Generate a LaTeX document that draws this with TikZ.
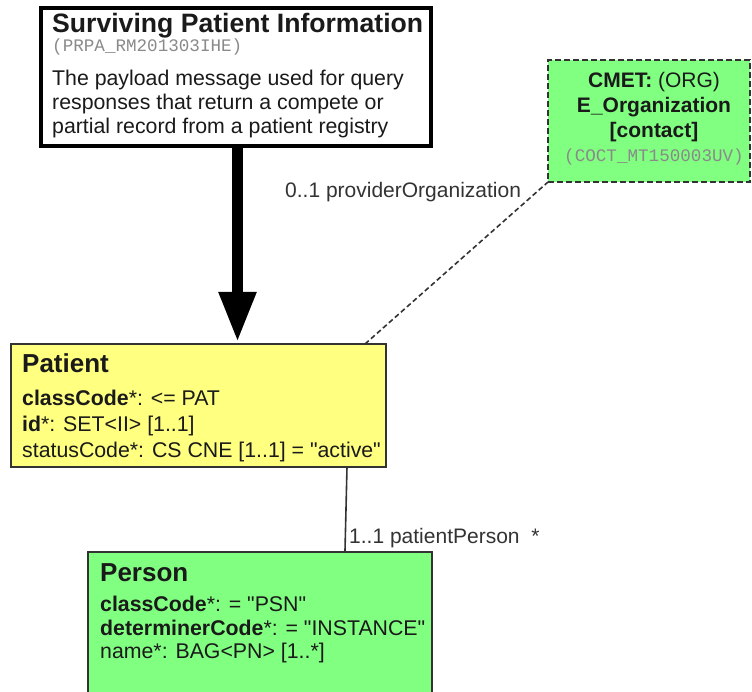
\documentclass[tikz,border=0pt]{standalone}
\usepackage{fontspec}
\setmainfont{Liberation Sans}[Ligatures=TeXOff]
\setmonofont{Liberation Mono}
\usetikzlibrary{calc,arrows.meta}
\newcommand\myfs[1]{\fontsize{#1}{#1}\selectfont}
\definecolor{txt}{HTML}{1A1A1A}
\definecolor{mono}{HTML}{8A8A8A}
\definecolor{pyellow}{HTML}{FFFF80}
\definecolor{pgreen}{HTML}{80FF80}
\definecolor{edge}{HTML}{333333}
\begin{document}
\begin{tikzpicture}[x=1pt,y=-1pt,
  boxshape/.style={rectangle,inner sep=0pt,outer sep=0pt},
  head/.style={anchor=base west,inner sep=0pt,text=txt,font=\myfs{26}\bfseries},
  body/.style={anchor=base west,inner sep=0pt,text=txt,font=\myfs{21.3}},
  code/.style={anchor=base west,inner sep=0pt,text=mono,font=\myfs{17.6}\ttfamily},
  cbody/.style={anchor=base,inner sep=0pt,text=txt,font=\myfs{21}},
  ccode/.style={anchor=base,inner sep=0pt,text=mono,font=\myfs{17.6}\ttfamily},
  lbl/.style={anchor=base west,inner sep=0pt,text=edge,font=\myfs{21}}]
\useasboundingbox[fill=white] (0,0) rectangle (752,692);

% boxes
\node[boxshape,draw=black,line width=4pt,fill=white,minimum width=390pt,minimum height=138pt] (box1) at (236,77) {};
\node[boxshape,draw=edge,line width=1.8pt,fill=pyellow,minimum width=375pt,minimum height=123pt] (pat) at (198.5,405.5) {};
\node[boxshape,draw=edge,line width=1.8pt,fill=pgreen,minimum width=344pt,minimum height=148pt] (per) at (260,626) {};
\node[boxshape,draw=edge,line width=1.8pt,dash pattern=on 6pt off 3pt,fill=pgreen,minimum width=202pt,minimum height=122pt] (cmet) at (649,121) {};

% box1 text
\node[head,font=\myfs{26.6}\bfseries] (t1) at (52,33) {Surviving Patient Information};
\node[code] (t2) at (52,52) {(PRPA\_RM201303IHE)};
\node[body] (t3) at (52,86) {The payload message used for query};
\node[body] (t4) at (52,110) {responses that return a compete or};
\node[body] (t5) at (52,134) {partial record from a patient registry};

% patient text
\node[head] (p1) at (22,373) {Patient};
\node[body] (p2) at (22,405) {\textbf{classCode}*: <= PAT};
\node[body] (p3) at (22,431) {\textbf{id}*: SET<II> [1..1]};
\node[body] (p4) at (22,457) {statusCode*: CS CNE [1..1] = "active"};

% person text
\node[head] (q1) at (100,581) {Person};
\node[body] (q2) at (100,611) {\textbf{classCode}*: = "PSN"};
\node[body] (q3) at (100,635) {\textbf{determinerCode}*: = "INSTANCE"};
\node[body] (q4) at (100,658) {name*: BAG<PN> [1..*]};

% cmet text
\node[cbody] (c1) at (654,88) {\textbf{CMET:} (ORG)};
\node[cbody] (c2) at (654,113) {\textbf{E\_Organization}};
\node[cbody] (c3) at (654,138) {\textbf{[contact]}};
\node[ccode] (c4) at (654,162) {(COCT\_MT150003UV)};

% connectors
\coordinate (a1) at ($(box1.south)+(1.5,0)$);
\coordinate (a2) at (a1 |- pat.north);
\draw[line width=11pt,-{Triangle[width=35pt,length=50pt]},shorten >=2pt] (a1) -- (a2);
\draw[edge,line width=1.6pt,dash pattern=on 5pt off 3pt] ($(pat.north west)!0.944!(pat.north east)$) -- (cmet.south west);
\draw[edge,line width=1.6pt] ($(pat.south west)!0.896!(pat.south east)$) -- ($(per.north west)!0.747!(per.north east)$);

% labels
\node[lbl] (l1) at (285,198) {0..1 providerOrganization};
\node[lbl] (l2) at (349,543) {1..1 patientPerson\ \ *};
\end{tikzpicture}
\end{document}
